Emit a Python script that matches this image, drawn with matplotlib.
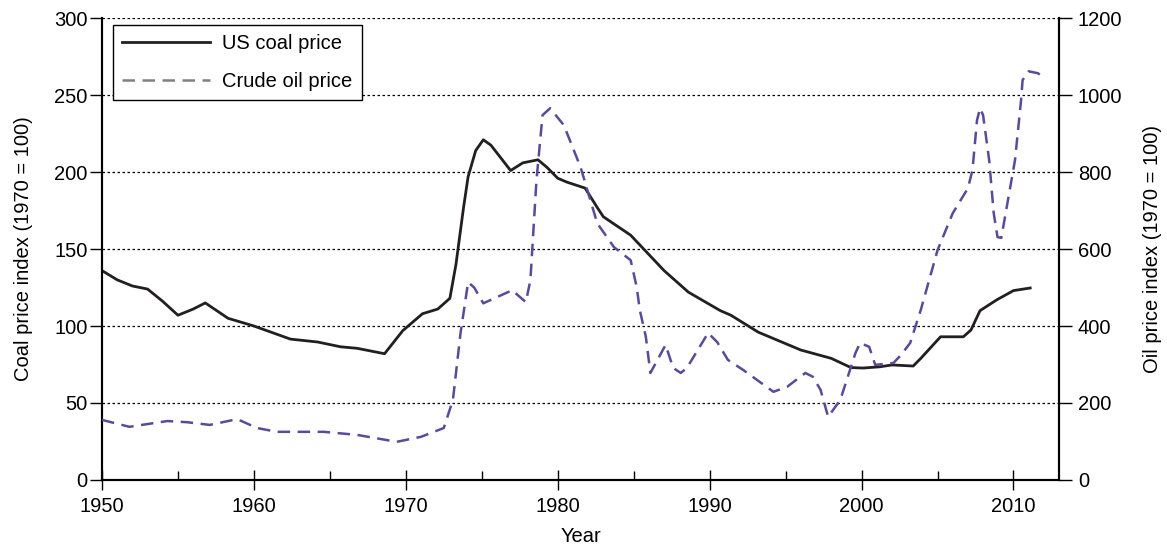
import matplotlib
matplotlib.use("Agg")
import matplotlib.pyplot as plt
from matplotlib.lines import Line2D
from matplotlib.ticker import MultipleLocator

plt.rcParams['font.family'] = ['Liberation Sans', 'DejaVu Sans']

coal_years = [1950, 1951, 1952, 1953, 1954, 1955, 1956, 1956.8, 1958.3, 1960, 1962.4,
              1964.2, 1965.7, 1966.8, 1968.6, 1969.8, 1971.1, 1972.1, 1972.9, 1973.3,
              1973.8, 1974.1, 1974.6, 1975.1, 1975.6, 1976.9, 1977.7, 1978.7, 1979.3,
              1980.0, 1980.6, 1981.8, 1982.6, 1983.0, 1984.8,
              1987.0, 1988.6, 1990.7, 1991.4, 1993.2, 1996.0, 1998.0, 1999.3, 2000.1,
              2001.2, 2002.0, 2003.4, 2003.9, 2005.2, 2006.7, 2007.2, 2007.8, 2008.9,
              2010.0, 2011.1]
coal_values = [136, 130, 126, 124, 116, 107, 111, 115, 105, 100, 91.5,
               89.6, 86.5, 85.5, 82, 97, 108, 111, 118, 140,
               177, 197, 214, 221, 217.5, 201, 206, 208, 203,
               196, 193.5, 189.6, 177, 171, 159,
               136, 122, 110, 107, 96, 84.4, 79, 73, 72.7,
               73.5, 74.7, 74, 79, 93, 93, 97.4, 110, 117,
               123, 124.7]

oil_years = [1950, 1951.8, 1954.3, 1955.6, 1957.1, 1958.9, 1960.2, 1961.5, 1964.6, 1966.8,
             1969.4, 1971.0, 1972.5, 1973.1, 1973.6, 1974.1, 1974.5, 1975.1, 1977.0, 1977.9,
             1978.2, 1978.6, 1979.0, 1979.5, 1980.4, 1981.5, 1982.6, 1983.7, 1984.8, 1985.2,
             1985.4, 1985.8, 1986.1, 1987.1, 1987.6, 1988.1, 1988.5, 1989.9, 1990.5, 1991.2,
             1992.2, 1994.2, 1995.1, 1996.3, 1996.8, 1997.3, 1997.8, 1998.6, 1999.6, 1999.9,
             2000.5, 2000.9, 2002.1, 2002.6, 2003.2, 2003.9, 2005.0, 2006.0, 2007.0, 2007.3,
             2007.6, 2007.8, 2008.0, 2008.4, 2008.7, 2008.95, 2009.2, 2009.6, 2010.1, 2010.5,
             2010.6, 2011.0, 2011.6, 2012.1]
oil_values = [156, 138, 153, 150, 143, 158, 135, 125, 125, 117,
              99, 112, 135, 208, 381, 514, 500, 459, 493, 462,
              519, 779, 948, 966, 922, 813, 667, 605, 571, 501,
              442, 372, 278, 351, 291, 278, 291, 382, 358, 312,
              286, 229, 242, 278, 268, 234, 164, 208, 330, 356,
              346, 299, 304, 325, 356, 442, 597, 693, 758, 805,
              935, 966, 948, 831, 693, 631, 629, 719, 831, 987,
              1039, 1062, 1057, 1044]

FS = 14.5

fig = plt.figure(figsize=(11.67, 5.51), dpi=100)
ax = fig.add_axes([0.0874, 0.129, 0.8201, 0.838])
ax2 = ax.twinx()

ax.plot(coal_years, coal_values, color='#231f20', lw=2.0, solid_joinstyle='round', zorder=3)
ax2.plot(oil_years, oil_values, color='#5b4a9a', lw=1.8, dashes=(5, 3), zorder=3)

ax.set_xlim(1950, 2013)
ax.set_ylim(0, 300)
ax2.set_ylim(0, 1200)
ax.set_yticks(range(0, 301, 50))
ax2.set_yticks(range(0, 1201, 200))
ax.set_xticks(range(1950, 2011, 10))
ax.xaxis.set_minor_locator(MultipleLocator(5))

for y in range(50, 301, 50):
    ax.axhline(y, color='black', lw=0.9, ls=(0, (2, 2)), zorder=1)

for a in (ax, ax2):
    a.spines['top'].set_visible(False)
    for s in a.spines.values():
        s.set_linewidth(1.5)
ax.tick_params(axis='x', which='major', direction='inout', length=15, width=1,
               labelsize=FS, pad=5)
ax.tick_params(axis='x', which='minor', direction='in', length=6.5, width=1)
ax.tick_params(axis='y', direction='out', length=8.5, width=1, labelsize=FS, pad=2)
ax2.tick_params(axis='y', direction='out', length=9.5, width=1, labelsize=FS, pad=4)

ax.set_xlabel('Year', fontsize=FS, labelpad=8)
ax.set_ylabel('Coal price index (1970 = 100)', fontsize=FS, labelpad=15)
ax2.set_ylabel('Oil price index (1970 = 100)', fontsize=FS, rotation=90, labelpad=15)

handles = [Line2D([], [], color='#231f20', lw=2.0),
           Line2D([], [], color='#808080', lw=1.8, dashes=(5, 3))]
leg = ax.legend(handles, ['US coal price', 'Crude oil price'], loc='upper left',
                bbox_to_anchor=(0.011, 0.985), fontsize=FS, frameon=True, fancybox=False,
                edgecolor='black', framealpha=1, handlelength=4.4, handletextpad=0.6,
                borderpad=0.45, labelspacing=0.95, borderaxespad=0)
leg.get_frame().set_linewidth(1.0)
leg.set_zorder(5)

fig.savefig('out.png', dpi=100)
